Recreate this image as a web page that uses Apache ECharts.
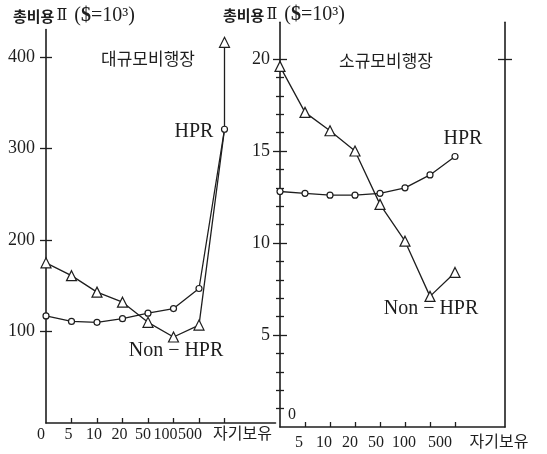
<!DOCTYPE html>
<html><head><meta charset="utf-8">
<script src="https://cdn.jsdelivr.net/npm/echarts@6/dist/echarts.min.js"></script>
<style>html,body{margin:0;padding:0;background:#fff}#c{width:547px;height:454px}</style>
</head><body><div id="c"></div>
<script>
// ---- data ----
const categories = ['0','5','10','20','50','100','500','자기보유','pad1','pad2'];
const largeXLabels = ['0','5','10','20','50','100','500','자기보유','',''];
const smallXLabels = ['','5','10','20','50','100','500','자기보유','',''];
const largeHprCats = ['0','5','10','20','50','100','500','자기보유'];
const largeHpr = [117,111,110,114,120,125,147,321];
const largeNonHprCats = ['0','5','10','20','50','100','500','자기보유','자기보유'];
const largeNonHpr = [175,161,143,132,110,94,107,321,416];
const smallHprCats = ['0','5','10','20','50','100','500','자기보유'];
const smallHpr = [12.8,12.7,12.6,12.6,12.7,13.0,13.7,14.7];
const smallNonHprCats = ['0','5','10','20','50','100','500','자기보유'];
const smallNonHpr = [19.6,17.1,16.1,15.0,12.1,10.1,7.1,8.4];
const largeYTicks = [100,200,300,400];
const smallYMajor = [5,10,15,20];
const smallYMinor = [1,2,3,4,6,7,8,9,11,12,13,14,16,17,18,19];
const rightBorderTicks = [20];

// ---- style ----
const INK = '#1e1e1e';
const SERIF = '"Liberation Serif","Noto Sans CJK KR",serif';
const CJK = '"Noto Sans CJK KR",sans-serif';
const shiftLarge = [-5,-3,-3,-3,-5,-8,-9,18,0,0];
const shiftSmall = [0,-6,-6,-5,-4,-1,10,44,0,0];
function richFor(shifts){
  const r = {};
  shifts.forEach((s,i)=>{
    r['p'+i] = {fontFamily:SERIF, fontSize:16, color:INK,
      padding: s<0 ? [0,-2*s,0,0] : [0,0,0,2*s]};
  });
  return r;
}
function fmtFor(labels){
  return (v,i)=> labels[i] ? '{p'+i+'|'+labels[i]+'}' : '';
}
const lineStyle = {color:INK, width:1.3};
const circleItem = {color:'#fff', borderColor:INK, borderWidth:1.2};
const triItem = {color:'#fff', borderColor:INK, borderWidth:1.2};

function yAx(gridIndex, pos, min, max, interval, opts){
  return Object.assign({
    type:'value', gridIndex, position:pos, min, max, interval,
    splitLine:{show:false},
    axisLine:{show:false},
    axisTick:{show:false},
    axisLabel:{show:false}
  }, opts);
}
const tickStyle = {color:INK, width:1.3};
const titleRich = {
  k:{fontFamily:CJK, fontWeight:'bold', fontSize:15, fill:INK},
  n:{fontFamily:'"DejaVu Serif","Liberation Serif",serif', fontSize:16, fill:INK, padding:[0,2,0,2]},
  r:{fontFamily:SERIF, fontSize:20, fill:INK},
  b:{fontFamily:SERIF, fontWeight:'bold', fontSize:20, fill:INK}
};
const TITLE = '{k|총비용}{n|Ⅱ}{r| (}{b|$}{r|=10³)}';

const option = {
  animation:false,
  backgroundColor:'#fff',
  grid:[
    {left:46, top:29.5, width:229.5, height:393.5, outerBoundsMode:'none', containLabel:false},
    {left:280, top:22.2, width:225, height:404.8, outerBoundsMode:'none', containLabel:false}
  ],
  xAxis:[
    {type:'category', gridIndex:0, data:categories, boundaryGap:false,
     axisLine:{show:true, lineStyle:{color:INK, width:1.6}},
     axisTick:{show:true, inside:true, length:5, lineStyle:tickStyle, alignWithLabel:true,
       interval:(i)=> i>=1 && i<=7},
     axisLabel:{show:true, interval:0, margin:4, formatter:fmtFor(largeXLabels), rich:richFor(shiftLarge),
       fontFamily:SERIF, fontSize:16, color:INK, hideOverlap:false},
     splitLine:{show:false}},
    {type:'category', gridIndex:1, data:categories, boundaryGap:false,
     axisLine:{show:true, lineStyle:{color:INK, width:1.6}},
     axisTick:{show:true, inside:true, length:5, lineStyle:tickStyle, alignWithLabel:true,
       interval:(i)=> i>=1 && i<=7},
     axisLabel:{show:true, interval:0, margin:8, formatter:fmtFor(smallXLabels), rich:richFor(shiftSmall),
       fontFamily:SERIF, fontSize:16, color:INK, hideOverlap:false},
     splitLine:{show:false}}
  ],
  yAxis:[
    yAx(0,'left',0,430,100,{
      axisLine:{show:true, lineStyle:{color:INK, width:1.6}},
      axisTick:{show:true, length:6, customValues:largeYTicks, lineStyle:tickStyle},
      axisLabel:{show:true, customValues:largeYTicks, margin:11, fontFamily:SERIF, fontSize:18, color:INK}
    }),
    yAx(0,'left',0,430,100,{
      axisTick:{show:true, inside:true, length:6, customValues:largeYTicks, lineStyle:tickStyle}
    }),
    yAx(1,'left',0,22,5,{
      axisLine:{show:true, lineStyle:{color:INK, width:1.6}},
      axisTick:{show:true, length:7, customValues:smallYMajor, lineStyle:tickStyle},
      axisLabel:{show:true, customValues:smallYMajor, margin:10, fontFamily:SERIF, fontSize:18, color:INK}
    }),
    yAx(1,'left',0,22,5,{
      axisTick:{show:true, inside:true, length:7, customValues:smallYMajor, lineStyle:tickStyle}
    }),
    yAx(1,'left',0,22,5,{
      axisTick:{show:true, length:4, customValues:smallYMinor, lineStyle:tickStyle}
    }),
    yAx(1,'left',0,22,5,{
      axisTick:{show:true, inside:true, length:4, customValues:smallYMinor, lineStyle:tickStyle}
    }),
    yAx(1,'right',0,22,5,{
      axisLine:{show:true, lineStyle:{color:INK, width:1.6}},
      axisTick:{show:true, length:7, customValues:rightBorderTicks, lineStyle:tickStyle}
    }),
    yAx(1,'right',0,22,5,{
      axisTick:{show:true, inside:true, length:7, customValues:rightBorderTicks, lineStyle:tickStyle}
    })
  ],
  series:[
    {type:'line', xAxisIndex:0, yAxisIndex:0, silent:true,
     data:largeHprCats.map((c,i)=>[c, largeHpr[i]]),
     symbol:'circle', symbolSize:6, lineStyle, itemStyle:circleItem, z:3},
    {type:'line', xAxisIndex:0, yAxisIndex:0, silent:true,
     data:largeNonHprCats.map((c,i)=>({value:[c, largeNonHpr[i]], symbol: i===7 ? 'none' : 'triangle'})),
     symbol:'triangle', symbolSize:10, lineStyle, itemStyle:triItem, z:2},
    {type:'line', xAxisIndex:1, yAxisIndex:2, silent:true,
     data:smallHprCats.map((c,i)=>[c, smallHpr[i]]),
     symbol:'circle', symbolSize:6, lineStyle, itemStyle:circleItem, z:3},
    {type:'line', xAxisIndex:1, yAxisIndex:2, silent:true,
     data:smallNonHprCats.map((c,i)=>[c, smallNonHpr[i]]),
     symbol:'triangle', symbolSize:10, lineStyle, itemStyle:triItem, z:2}
  ],
  graphic:[
    {type:'text', x:13, y:16, style:{text:TITLE, verticalAlign:'middle', align:'left', rich:titleRich}},
    {type:'text', x:223, y:15, style:{text:TITLE, verticalAlign:'middle', align:'left', rich:titleRich}},
    {type:'text', x:148, y:59, style:{text:'대규모비행장', font:'17px "Noto Sans CJK KR"', fill:INK, align:'center', verticalAlign:'middle'}},
    {type:'text', x:386, y:61, style:{text:'소규모비행장', font:'17px "Noto Sans CJK KR"', fill:INK, align:'center', verticalAlign:'middle'}},
    {type:'text', x:194, y:132, style:{text:'HPR', font:'20px "Liberation Serif"', fill:INK, align:'center', verticalAlign:'middle'}},
    {type:'text', x:176, y:351, style:{text:'Non − HPR', font:'20px "Liberation Serif"', fill:INK, align:'center', verticalAlign:'middle'}},
    {type:'text', x:463, y:139, style:{text:'HPR', font:'20px "Liberation Serif"', fill:INK, align:'center', verticalAlign:'middle'}},
    {type:'text', x:431, y:309, style:{text:'Non − HPR', font:'20px "Liberation Serif"', fill:INK, align:'center', verticalAlign:'middle'}},
    {type:'text', x:292, y:415, style:{text:'0', font:'16px "Liberation Serif"', fill:INK, align:'center', verticalAlign:'middle'}}
  ]
};
const chart = echarts.init(document.getElementById('c'), null, {renderer:'canvas'});
chart.setOption(option);
</script>
</body></html>
